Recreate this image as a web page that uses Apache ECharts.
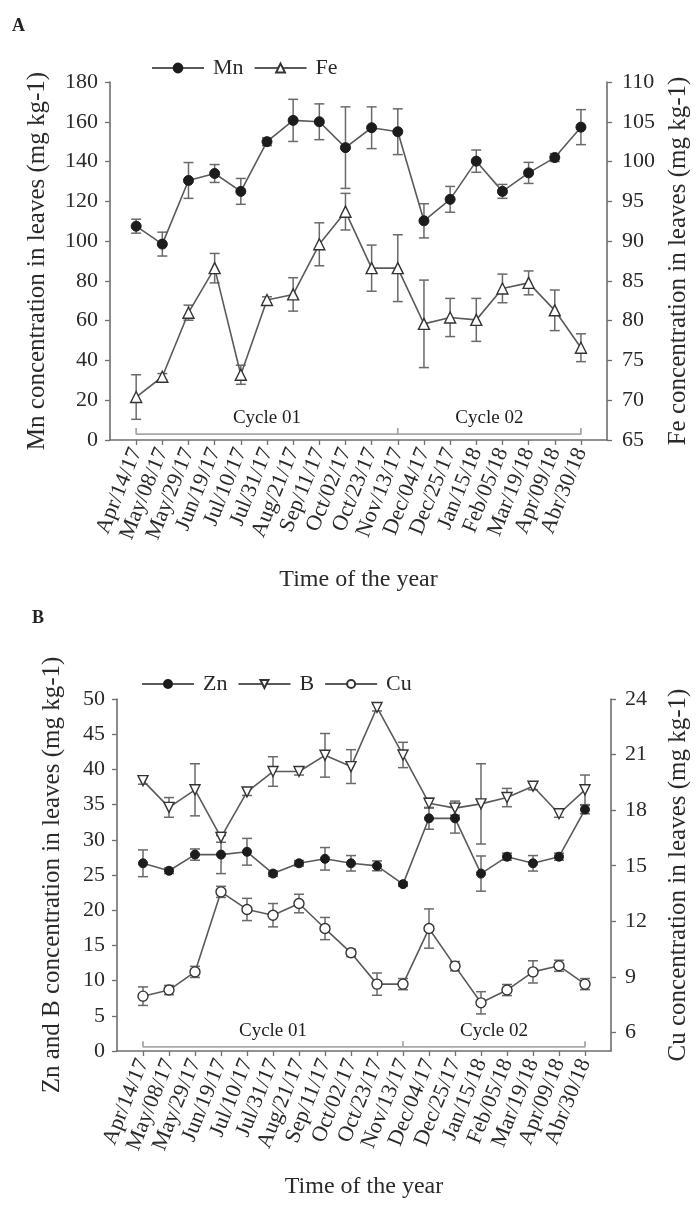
<!DOCTYPE html>
<html>
<head>
<meta charset="utf-8">
<title>Micronutrients in leaves</title>
<script src="https://cdn.jsdelivr.net/npm/echarts@6/dist/echarts.min.js"></script>
<style>
  html, body { margin: 0; padding: 0; background: #fff; }
  #chart { width: 699px; height: 1205px; }
</style>
</head>
<body>
<div id="chart"></div>
<script>
// sampling dates (x axis)
const dates = ['Apr/14/17', 'May/08/17', 'May/29/17', 'Jun/19/17', 'Jul/10/17', 'Jul/31/17',
  'Aug/21/17', 'Sep/11/17', 'Oct/02/17', 'Oct/23/17', 'Nov/13/17', 'Dec/04/17', 'Dec/25/17',
  'Jan/15/18', 'Feb/05/18', 'Mar/19/18', 'Apr/09/18', 'Abr/30/18'];

// panel A
const mn    = [107.5, 98.5, 130.5, 134, 125, 150, 160.7, 160, 147, 157, 155, 110.2, 121, 140.2, 125, 134.3, 142, 157.3];
const mnErr = [3.5, 6, 9, 4.5, 6.5, 2, 10.6, 9, 20.5, 10.5, 11.5, 8.6, 6.5, 5.6, 3.5, 5.3, 2, 8.8];
const fe    = [70.4, 72.95, 81, 86.6, 73.2, 82.6, 83.3, 89.6, 93.7, 86.6, 86.6, 79.6, 80.4, 80.1, 84.05, 84.75, 81.3, 76.6];
const feErr = [2.8, 0.4, 0.95, 1.85, 1.2, 0.4, 2.1, 2.7, 2.3, 2.9, 4.2, 5.5, 2.4, 2.7, 1.8, 1.5, 2.55, 1.75];

// panel B
const zn    = [26.66, 25.6, 27.9, 27.9, 28.3, 25.2, 26.66, 27.3, 26.66, 26.3, 23.7, 33.05, 33.05, 25.2, 27.6, 26.66, 27.6, 34.3];
const znErr = [1.9, 0.4, 0.8, 2.7, 1.9, 0.4, 0.4, 1.6, 1.1, 0.7, 0.3, 1.55, 2.1, 2.5, 0.5, 1.1, 0.5, 0.6];
const bo    = [38.4, 34.6, 37.1, 30.35, 36.8, 39.7, 39.7, 42, 40.4, 48.8, 42.05, 35.2, 34.5, 35.1, 36, 37.6, 33.7, 37.1];
const boErr = [0.5, 1.4, 3.7, 0.7, 0.5, 2.1, 0.5, 3.1, 2.4, 0.5, 1.8, 0.7, 1, 5.7, 1.3, 0.5, 0.5, 2.1];
const cu    = [7.96, 8.29, 9.27, 13.59, 12.64, 12.33, 12.96, 11.61, 10.3, 8.61, 8.61, 11.61, 9.58, 7.6, 8.29, 9.27, 9.6, 8.61];
const cuErr = [0.5, 0.25, 0.3, 0.3, 0.6, 0.63, 0.5, 0.6, 0.2, 0.6, 0.3, 1.06, 0.25, 0.6, 0.3, 0.6, 0.3, 0.3];

// cycles: boundaries as date indices
const cycleBounds = [0, 10, 17];
const cycleNames = ['Cycle 01', 'Cycle 02'];
const cuTicks = [6, 9, 12, 15, 18, 21, 24];

const FONT = 'Liberation Serif';
const TXT = '#2a2a2a';
const AX = '#6e6e6e';

const idx = dates.map((d, i) => i);
const pairs = arr => arr.map((v, i) => [i, v]);
const triples = (arr, err) => arr.map((v, i) => [i, v, err[i]]);

function errorBar(params, api) {
  const x = api.value(0), y = api.value(1), e = api.value(2);
  const top = api.coord([x, y + e]);
  const bot = api.coord([x, y - e]);
  const h = 5;
  const style = { stroke: '#6a6a6a', lineWidth: 1.5, fill: null };
  return {
    type: 'group',
    children: [
      { type: 'line', shape: { x1: top[0], y1: top[1], x2: bot[0], y2: bot[1] }, style: style },
      { type: 'line', shape: { x1: top[0] - h, y1: top[1], x2: top[0] + h, y2: top[1] }, style: style },
      { type: 'line', shape: { x1: bot[0] - h, y1: bot[1], x2: bot[0] + h, y2: bot[1] }, style: style }
    ]
  };
}

function xAxis(grid, gap) {
  return {
    type: 'value', gridIndex: grid, min: -1, max: 18, interval: 1,
    axisLine: { onZero: false, lineStyle: { color: AX, width: 1.6 } },
    axisTick: { show: true, length: 5, customValues: idx, lineStyle: { color: AX, width: 1.3 } },
    axisLabel: {
      customValues: idx, rotate: 68, margin: 9, fontSize: 22, fontFamily: FONT, color: TXT,
      formatter: v => dates[v] || ''
    },
    splitLine: { show: false },
    name: 'Time of the year', nameLocation: 'middle', nameGap: gap,
    nameTextStyle: { fontSize: 24, fontFamily: FONT, color: TXT }
  };
}

function yAxis(grid, pos, opts) {
  return Object.assign({
    type: 'value', gridIndex: grid, position: pos,
    axisLine: { show: true, onZero: false, lineStyle: { color: AX, width: 1.6 } },
    axisTick: { show: true, length: 5, lineStyle: { color: AX, width: 1.3 } },
    axisLabel: { fontSize: 22, fontFamily: FONT, color: TXT, margin: pos === 'left' ? 12 : 15 },
    splitLine: { show: false },
    nameLocation: 'middle', nameRotate: 90,
    nameTextStyle: { fontSize: 25, fontFamily: FONT, color: TXT }
  }, opts);
}

function lineSeries(name, xi, yi, data, symbol, filled, size, rot) {
  return {
    name: name, type: 'line', xAxisIndex: xi, yAxisIndex: yi, data: pairs(data),
    symbol: symbol, symbolSize: size, symbolRotate: rot || 0, showAllSymbol: true,
    lineStyle: { color: '#5a5a5a', width: 1.6 },
    itemStyle: filled ? { color: '#1c1c1c', borderColor: '#1c1c1c', borderWidth: 1 }
                      : { color: '#ffffff', borderColor: '#333333', borderWidth: 1.4 },
    z: 3
  };
}

function errSeries(xi, yi, data, err) {
  return {
    type: 'custom', xAxisIndex: xi, yAxisIndex: yi, data: triples(data, err),
    renderItem: errorBar, encode: { x: 0, y: 1 }, silent: true, z: 2
  };
}

function bracket(xi, yi, low, high) {
  const pts = [];
  cycleBounds.forEach((b, k) => {
    if (k > 0) pts.push([b, low]);
    pts.push([b, high]);
    pts.push([b, low]);
  });
  return {
    type: 'line', xAxisIndex: xi, yAxisIndex: yi, data: pts, symbol: 'none',
    lineStyle: { color: '#a8a8a8', width: 1.8 }, silent: true, z: 1
  };
}

function cycleLabels(xi, yi, y) {
  return {
    type: 'scatter', xAxisIndex: xi, yAxisIndex: yi, symbolSize: 1, silent: true,
    itemStyle: { color: 'rgba(0,0,0,0)' },
    data: cycleNames.map((n, k) => ({ name: n, value: [(cycleBounds[k] + cycleBounds[k + 1]) / 2, y] })),
    label: { show: true, position: 'inside', formatter: '{b}', fontSize: 19, fontFamily: FONT, color: '#1e1e1e', opacity: 1 },
    z: 4
  };
}

const chart = echarts.init(document.getElementById('chart'), null, { renderer: 'canvas' });

chart.setOption({
  backgroundColor: '#fff',
  animation: false,
  textStyle: { fontFamily: FONT },
  graphic: [
    { type: 'text', left: 12, top: 17, style: { text: 'A', fontSize: 18, fontWeight: 'bold', fontFamily: FONT, fill: '#222' } },
    { type: 'text', left: 32, top: 609, style: { text: 'B', fontSize: 18, fontWeight: 'bold', fontFamily: FONT, fill: '#222' } }
  ],
  legend: [
    {
      data: ['Mn', 'Fe'], left: 146, top: 52, itemWidth: 52, itemHeight: 11, itemGap: 10,
      textStyle: { fontSize: 22, fontFamily: FONT, color: TXT, padding: [0, 0, 0, 4] }
    },
    {
      data: ['Zn', 'B', 'Cu'], left: 136, top: 668, itemWidth: 52, itemHeight: 10, itemGap: 10,
      textStyle: { fontSize: 22, fontFamily: FONT, color: TXT, padding: [0, 0, 0, 4] }
    }
  ],
  grid: [
    { left: 110, right: 91, top: 82, height: 358 },
    { left: 117, right: 86, top: 699, height: 352 }
  ],
  xAxis: [xAxis(0, 128), xAxis(1, 124)],
  yAxis: [
    yAxis(0, 'left', { min: 0, max: 180, interval: 20, name: 'Mn concentration in leaves (mg kg-1)', nameGap: 60 }),
    yAxis(0, 'right', { min: 65, max: 110, interval: 5, name: 'Fe concentration in leaves (mg kg-1)', nameGap: 58 }),
    yAxis(1, 'left', { min: 0, max: 50, interval: 5, name: 'Zn and B concentration in leaves (mg kg-1)', nameGap: 52 }),
    yAxis(1, 'right', {
      min: 5, max: 24, name: 'Cu concentration in leaves (mg kg-1)', nameGap: 55,
      axisTick: { show: true, length: 5, customValues: cuTicks, lineStyle: { color: AX, width: 1.3 } },
      axisLabel: { customValues: cuTicks, fontSize: 22, fontFamily: FONT, color: TXT, margin: 14 }
    })
  ],
  series: [
    bracket(0, 0, 3, 6),
    cycleLabels(0, 0, 11),
    errSeries(0, 0, mn, mnErr),
    errSeries(0, 1, fe, feErr),
    lineSeries('Mn', 0, 0, mn, 'circle', true, 10),
    lineSeries('Fe', 0, 1, fe, 'triangle', false, 11),

    bracket(1, 2, 0.6, 1.4),
    cycleLabels(1, 2, 2.9),
    errSeries(1, 2, zn, znErr),
    errSeries(1, 2, bo, boErr),
    errSeries(1, 3, cu, cuErr),
    lineSeries('Zn', 1, 2, zn, 'circle', true, 9),
    lineSeries('B', 1, 2, bo, 'triangle', false, 10, 180),
    lineSeries('Cu', 1, 3, cu, 'circle', false, 10)
  ]
});
</script>
</body>
</html>
